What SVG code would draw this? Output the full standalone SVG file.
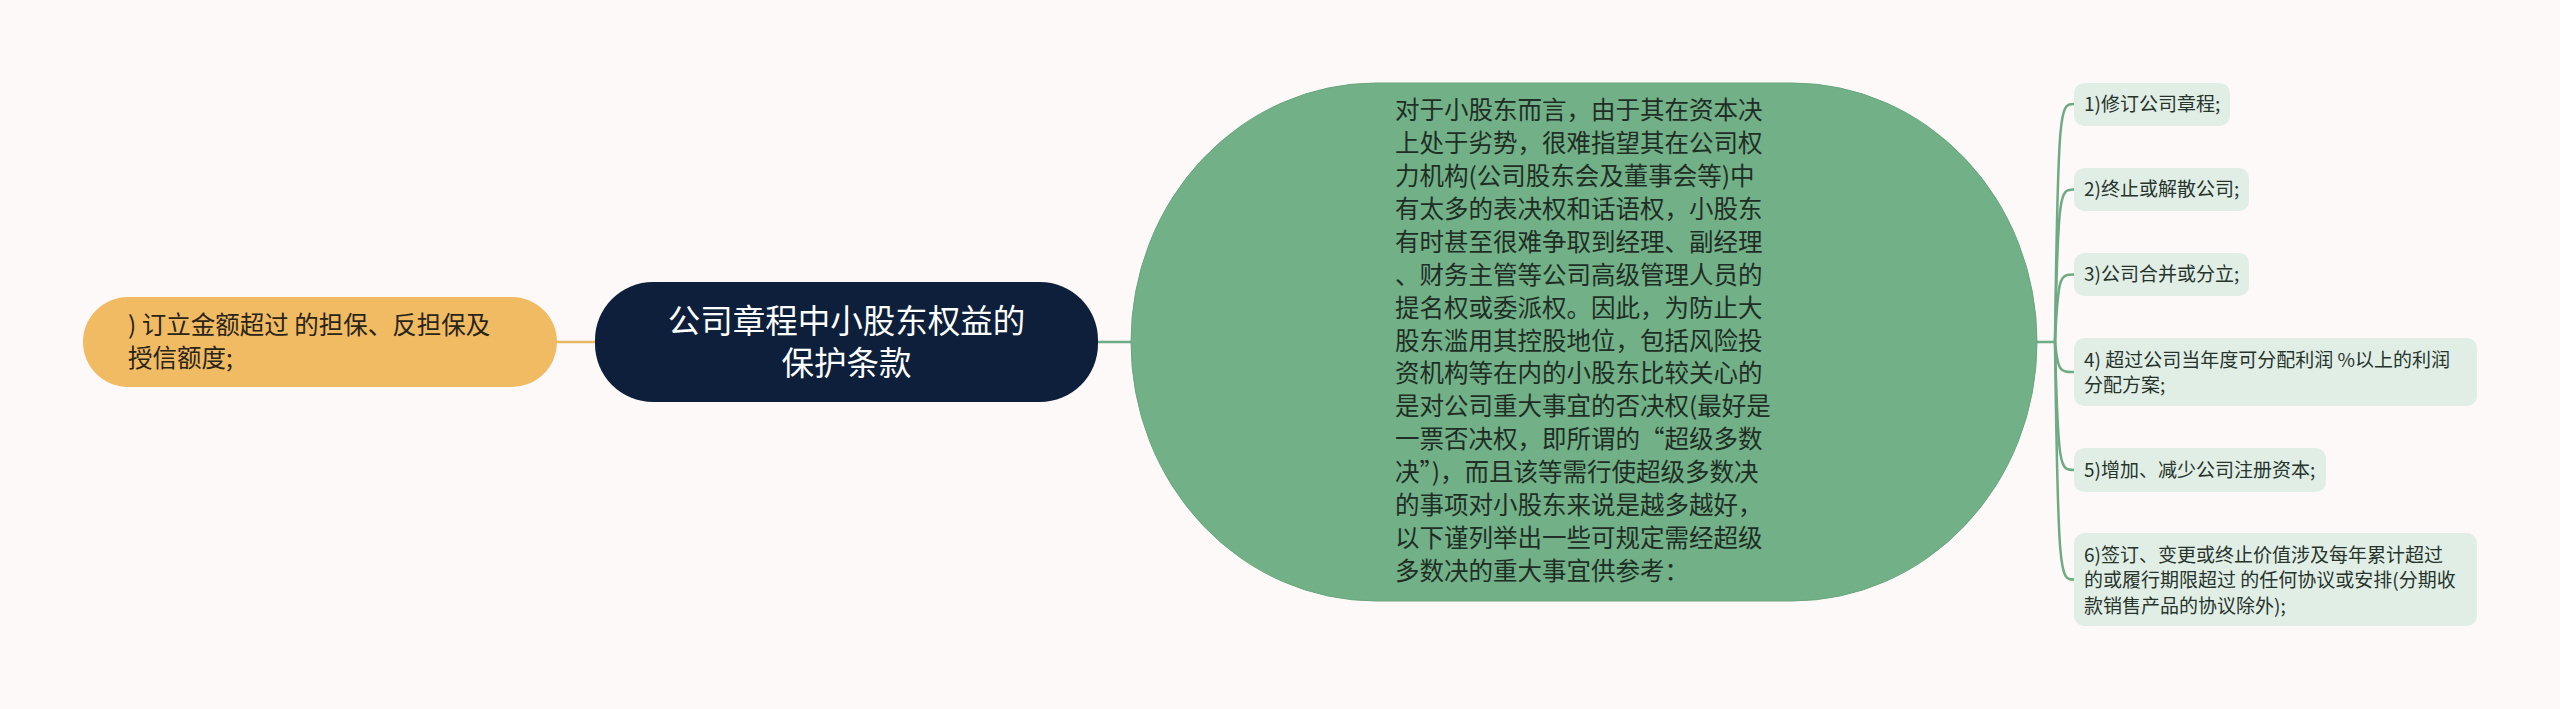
<svg xmlns="http://www.w3.org/2000/svg" width="2560" height="709" viewBox="0 0 2560 709">
<style>
text{font-family:"Noto Sans CJK SC","Noto Sans",sans-serif;}
.main{font-size:24.5px;fill:#1f2e25;}
.root{font-size:32.5px;fill:#ffffff;text-anchor:middle;}
.orng{font-size:24.5px;fill:#2a2418;}
.leaf rect{fill:#e1eee6;}
.leaf text{font-size:19px;fill:#27342c;}
.conn path{fill:none;stroke-width:2.5;stroke-linecap:round;}
.g{stroke:#6eab84;}
.o{stroke:#e8b863;}
</style>
<rect x="0" y="0" width="2560" height="709" fill="#fcf9f8"/>
<g id="connectors" class="conn">
<path class="o" d="M557 342 H595"/>
<path class="g" d="M1098 342 H1131"/>
<path class="g" d="M2037 342 H2055"/>
<path class="g" d="M2055 342 C2058 104 2060 104 2074 104"/>
<path class="g" d="M2055 342 C2058 189.5 2060 189.5 2074 189.5"/>
<path class="g" d="M2055 342 C2058 274.5 2060 274.5 2074 274.5"/>
<path class="g" d="M2055 342 C2058 372 2060 372 2074 372"/>
<path class="g" d="M2055 342 C2058 470 2060 470 2074 470"/>
<path class="g" d="M2055 342 C2058 579.5 2060 579.5 2074 579.5"/>
</g>
<g id="node-left">
<rect x="83" y="297" width="474" height="90" rx="45" ry="45" fill="#f0bb63"/>
<text class="orng"><tspan x="128" y="334">) 订立金额超过 的担保、反担保及</tspan><tspan x="128" y="367">授信额度;</tspan></text>
</g>
<g id="node-root">
<rect x="595" y="282" width="503" height="120" rx="58" ry="58" fill="#0d1f3a"/>
<text class="root"><tspan x="846.5" y="333">公司章程中小股东权益的</tspan><tspan x="846.5" y="375">保护条款</tspan></text>
</g>
<g id="node-main">
<rect x="1131" y="83" width="906" height="518" rx="245" ry="259" fill="#72b088" stroke="#68a67e" stroke-width="1"/>
<text class="main">
<tspan x="1395" y="119">对于小股东而言，由于其在资本决</tspan>
<tspan x="1395" y="151.9">上处于劣势，很难指望其在公司权</tspan>
<tspan x="1395" y="184.9">力机构(公司股东会及董事会等)中</tspan>
<tspan x="1395" y="217.8">有太多的表决权和话语权，小股东</tspan>
<tspan x="1395" y="250.7">有时甚至很难争取到经理、副经理</tspan>
<tspan x="1395" y="283.7">、财务主管等公司高级管理人员的</tspan>
<tspan x="1395" y="316.6">提名权或委派权。因此，为防止大</tspan>
<tspan x="1395" y="349.5">股东滥用其控股地位，包括风险投</tspan>
<tspan x="1395" y="382.4">资机构等在内的小股东比较关心的</tspan>
<tspan x="1395" y="415.4">是对公司重大事宜的否决权(最好是</tspan>
<tspan x="1395" y="448.3">一票否决权，即所谓的“超级多数</tspan>
<tspan x="1395" y="481.2">决”)，而且该等需行使超级多数决</tspan>
<tspan x="1395" y="514.2">的事项对小股东来说是越多越好，</tspan>
<tspan x="1395" y="547.1">以下谨列举出一些可规定需经超级</tspan>
<tspan x="1395" y="580">多数决的重大事宜供参考：</tspan>
</text>
</g>
<g id="leaf-1" class="leaf">
<rect x="2074" y="83" width="156" height="43" rx="10"/>
<text x="2084" y="111">1)修订公司章程;</text>
</g>
<g id="leaf-2" class="leaf">
<rect x="2074" y="168" width="175" height="43" rx="10"/>
<text x="2084" y="196">2)终止或解散公司;</text>
</g>
<g id="leaf-3" class="leaf">
<rect x="2074" y="253" width="175" height="43" rx="10"/>
<text x="2084" y="281">3)公司合并或分立;</text>
</g>
<g id="leaf-4" class="leaf">
<rect x="2074" y="338" width="403" height="68" rx="10"/>
<text><tspan x="2084" y="366.5">4) 超过公司当年度可分配利润 %以上的利润</tspan><tspan x="2084" y="392">分配方案;</tspan></text>
</g>
<g id="leaf-5" class="leaf">
<rect x="2074" y="448" width="252" height="44" rx="10"/>
<text x="2084" y="476.5">5)增加、减少公司注册资本;</text>
</g>
<g id="leaf-6" class="leaf">
<rect x="2074" y="533" width="403" height="93" rx="10"/>
<text><tspan x="2084" y="561.5">6)签订、变更或终止价值涉及每年累计超过</tspan><tspan x="2084" y="587">的或履行期限超过 的任何协议或安排(分期收</tspan><tspan x="2084" y="612.5">款销售产品的协议除外);</tspan></text>
</g>
</svg>
